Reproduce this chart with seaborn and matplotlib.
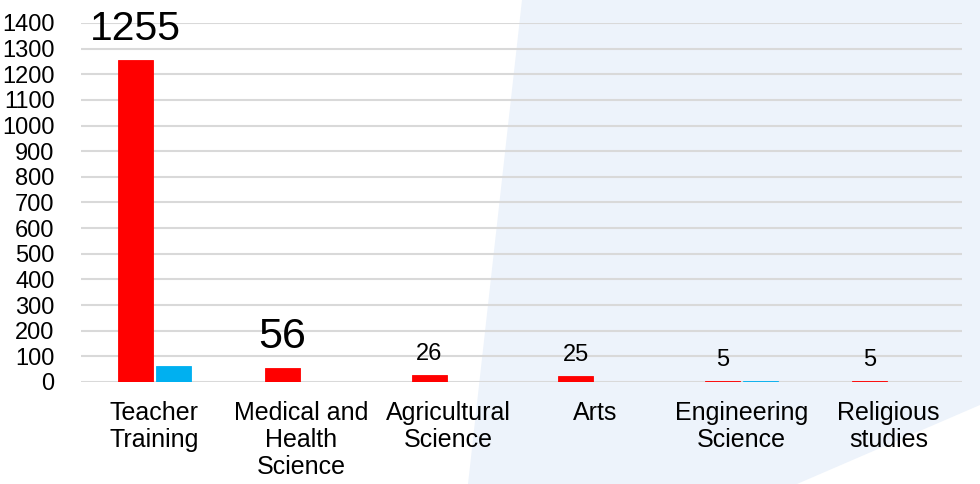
import matplotlib
matplotlib.use("Agg")
import matplotlib.pyplot as plt
from matplotlib.patches import Polygon
import seaborn as sns
import pandas as pd

categories = ["Teacher\nTraining", "Medical and\nHealth\nScience", "Agricultural\nScience",
              "Arts", "Engineering\nScience", "Religious\nstudies"]
series_names = ["Series 1", "Series 2"]
values_red = [1255, 56, 26, 25, 5, 5]
values_blue = [61, 0, 0, 0, 5, 0]
y_ticks = [0, 100, 200, 300, 400, 500, 600, 700, 800, 900, 1000, 1100, 1200, 1300, 1400]

label_sizes = [29.5, 31, 17, 17, 17, 17]
label_offsets_px = [20, 20, 15, 15, 15, 15]

df = pd.DataFrame({
    "category": categories * 2,
    "series": [series_names[0]] * len(categories) + [series_names[1]] * len(categories),
    "value": values_red + values_blue,
})

sns.set_theme(style="white")
plt.rcParams["font.family"] = ["Liberation Sans", "DejaVu Sans"]

fig = plt.figure(figsize=(9.8, 4.84), dpi=100)
fig.patch.set_facecolor("white")
# light blue background shape
poly = Polygon([(522 / 980, 1), (1, 1), (1, 1 - 405 / 484), (797 / 980, 0), (468 / 980, 0)],
               closed=True, transform=fig.transFigure, facecolor="#EDF3FB", edgecolor="none", zorder=-10)
fig.patches.append(poly)

ax = fig.add_axes([81 / 980, 1 - 382 / 484, (962 - 81) / 980, (382 - 23) / 484])
ax.set_facecolor("none")
ax.set_zorder(1)

sns.barplot(data=df, x="category", y="value", hue="series", order=categories,
            hue_order=series_names, palette=["#FF0000", "#00B0F0"], saturation=1,
            width=0.517, gap=0.08, ax=ax, legend=False, zorder=3,
            linewidth=0, edgecolor="none")

# give bars an edge in their own colour so very small values remain visible
for cont in ax.containers:
    for bar in cont:
        if bar.get_height() > 0:
            bar.set_edgecolor(bar.get_facecolor())
            bar.set_linewidth(0.6)

ax.set_ylim(0, 1400)
ax.set_yticks(y_ticks)
ax.set_yticklabels([str(t) for t in y_ticks], fontsize=17)
ax.yaxis.grid(True, color="#D9D9D9", linewidth=1.5, zorder=0)
ax.set_axisbelow(True)
for s in ax.spines.values():
    s.set_visible(False)
ax.tick_params(axis="y", length=0, pad=19, labelcolor="black")
ax.tick_params(axis="x", length=0, pad=14, labelsize=18, labelcolor="black")
for lbl in ax.get_xticklabels():
    lbl.set_linespacing(1.15)
ax.set_xlabel("")
ax.set_ylabel("")
ax.set_xlim(-0.5, len(categories) - 0.5)

# value labels on red bars
red_bars = ax.containers[0]
for bar, v, fs, off in zip(red_bars, values_red, label_sizes, label_offsets_px):
    x = bar.get_x() + bar.get_width() / 2
    ax.annotate(str(v), (x, v), xytext=(0, off * 0.72), textcoords="offset points",
                ha="center", va="baseline", fontsize=fs, color="black", zorder=5)

fig.savefig("out.png", dpi=100, facecolor=fig.get_facecolor())
